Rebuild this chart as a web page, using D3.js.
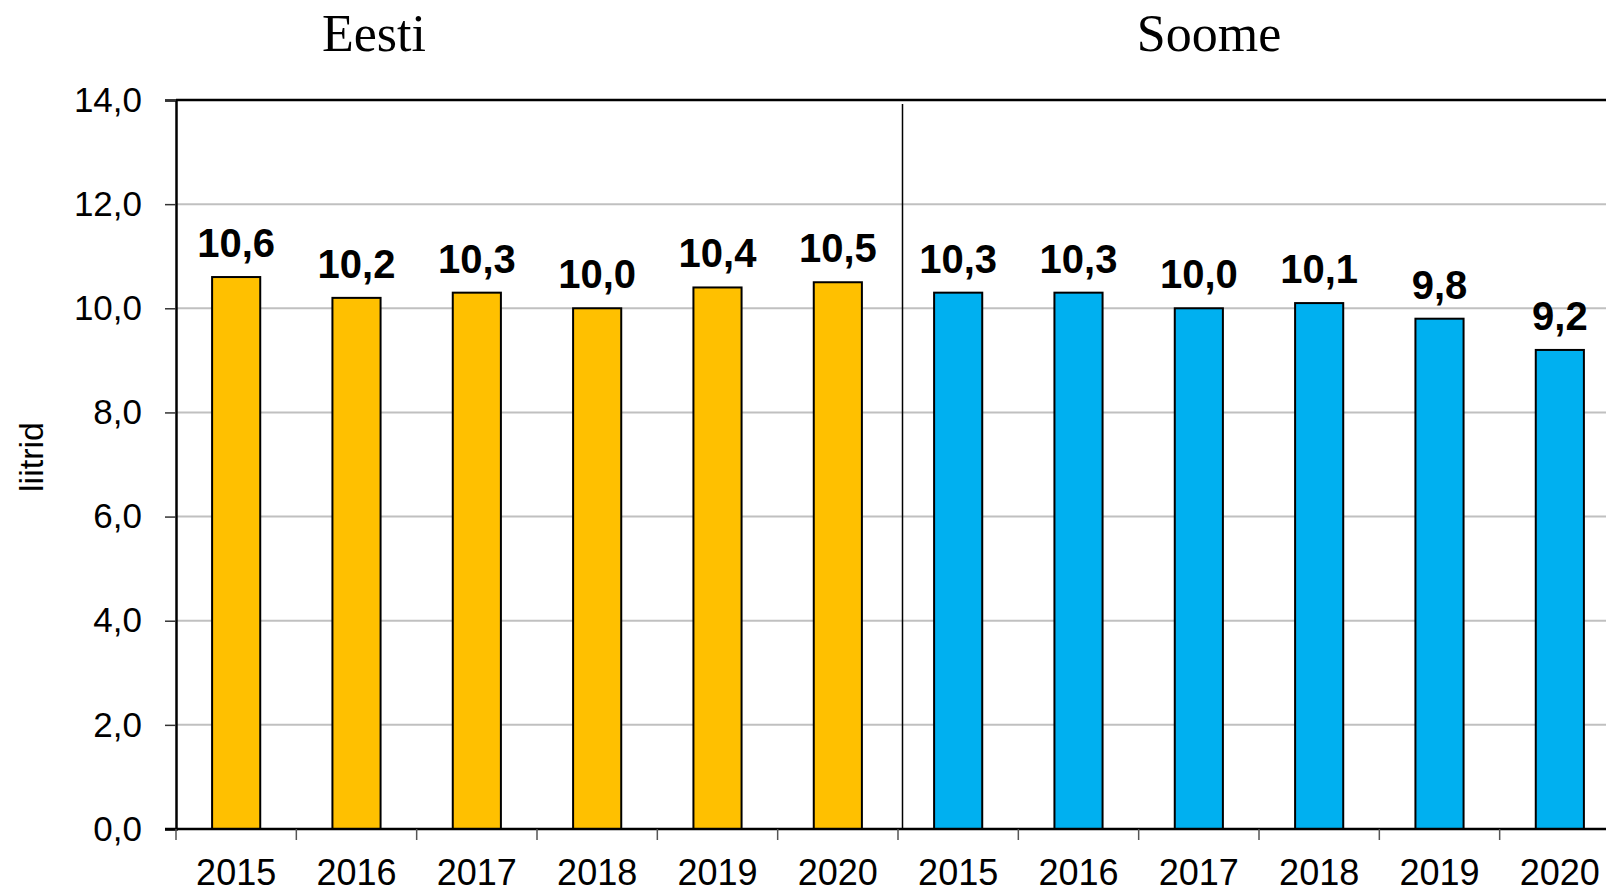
<!DOCTYPE html>
<html>
<head>
<meta charset="utf-8">
<script src="https://cdn.jsdelivr.net/npm/d3@7"></script>
<style>
  body { margin: 0; background: #fff; }
  text { font-family: "Liberation Sans", Arial, sans-serif; fill: #000; }
  .title { font-family: "Liberation Serif", "Times New Roman", serif; }
</style>
</head>
<body>
<div id="chart"></div>
<script>
// data
var years = ["2015", "2016", "2017", "2018", "2019", "2020"];
var countries = ["Eesti", "Soome"];
var eestiValues = [10.6, 10.2, 10.3, 10.0, 10.4, 10.5];
var soomeValues = [10.3, 10.3, 10.0, 10.1, 9.8, 9.2];
var countryColors = ["#FFC000", "#00B0F0"];
var yTicks = [0, 2, 4, 6, 8, 10, 12, 14];

var width = 1606, height = 888;
// note: "top" is taken by window.top, so use plotTop etc.
var plotLeft = 176, plotRight = 1620, plotTop = 100, plotBottom = 829;

var rows = [];
[eestiValues, soomeValues].forEach(function(vals, ci) {
    vals.forEach(function(v, i) {
        rows.push({ key: countries[ci] + "-" + years[i], year: years[i], country: ci, value: v });
    });
});

var fmt = function(v) { return d3.format(".1f")(v).replace(".", ","); };

var svg = d3.select("#chart").append("svg")
    .attr("width", width)
    .attr("height", height);

var x = d3.scaleBand()
    .domain(rows.map(function(d) { return d.key; }))
    .range([plotLeft, plotRight])
    .paddingInner(0.6)
    .paddingOuter(0.3);

// linear helper for the tick marks between categories
var xEdge = d3.scaleLinear().domain([0, rows.length]).range([plotLeft, plotRight]);

var y = d3.scaleLinear().domain([0, 14]).range([plotBottom, plotTop]);

// gridlines
svg.append("g")
    .selectAll("line")
    .data(yTicks.filter(function(t) { return t > 0 && t < 14; }))
    .enter().append("line")
    .attr("x1", plotLeft).attr("x2", plotRight)
    .attr("y1", function(d) { return y(d); })
    .attr("y2", function(d) { return y(d); })
    .style("stroke", "#c0c0c0")
    .style("stroke-width", 2);

// top border
svg.append("line")
    .attr("x1", plotLeft).attr("x2", plotRight)
    .attr("y1", y(14)).attr("y2", y(14))
    .style("stroke", "#000").style("stroke-width", 2.5);

// divider between countries
svg.append("line")
    .attr("x1", xEdge(6) + 4.5).attr("x2", xEdge(6) + 4.5)
    .attr("y1", y(14) + 4).attr("y2", plotBottom)
    .style("stroke", "#000").style("stroke-width", 1.5);

// bars
svg.append("g")
    .selectAll("rect")
    .data(rows)
    .enter().append("rect")
    .attr("x", function(d) { return x(d.key); })
    .attr("y", function(d) { return y(d.value); })
    .attr("width", x.bandwidth())
    .attr("height", function(d) { return plotBottom - y(d.value); })
    .style("fill", function(d) { return countryColors[d.country]; })
    .style("stroke", "#000")
    .style("stroke-width", 2);

// value labels
svg.append("g")
    .selectAll("text")
    .data(rows)
    .enter().append("text")
    .attr("x", function(d) { return x(d.key) + x.bandwidth() / 2; })
    .attr("y", function(d) { return y(d.value) - 20; })
    .attr("text-anchor", "middle")
    .style("font-size", "40px")
    .style("font-weight", "bold")
    .text(function(d) { return fmt(d.value); });

// y axis
var yAxis = svg.append("g")
    .attr("transform", "translate(" + plotLeft + ",0)")
    .call(d3.axisLeft(y).tickValues(yTicks).tickSize(11).tickPadding(23).tickFormat(fmt));
yAxis.select(".domain").style("stroke", "#000").style("stroke-width", 2.5);
yAxis.selectAll(".tick line").style("stroke", "#333").style("stroke-width", 1.5);
yAxis.selectAll("text").style("font-size", "35px").style("font-family", "Liberation Sans, Arial, sans-serif");

// x axis line and tick marks
svg.append("line")
    .attr("x1", plotLeft - 11).attr("x2", plotRight)
    .attr("y1", plotBottom).attr("y2", plotBottom)
    .style("stroke", "#000").style("stroke-width", 2.5);

svg.append("g")
    .selectAll("line")
    .data(d3.range(rows.length + 1))
    .enter().append("line")
    .attr("x1", function(d) { return xEdge(d); })
    .attr("x2", function(d) { return xEdge(d); })
    .attr("y1", plotBottom).attr("y2", plotBottom + 11)
    .style("stroke", "#555")
    .style("stroke-width", 1.5);

// x labels
svg.append("g")
    .selectAll("text")
    .data(rows)
    .enter().append("text")
    .attr("x", function(d) { return x(d.key) + x.bandwidth() / 2; })
    .attr("y", 885)
    .attr("text-anchor", "middle")
    .style("font-size", "36px")
    .text(function(d) { return d.year; });

// country titles
var titleX = [374, 1209];
svg.append("g")
    .selectAll("text")
    .data(countries)
    .enter().append("text")
    .attr("class", "title")
    .attr("x", function(d, i) { return titleX[i]; })
    .attr("y", 51)
    .attr("text-anchor", "middle")
    .style("font-size", "52px")
    .text(function(d) { return d; });

// y axis title
svg.append("text")
    .attr("transform", "translate(43,457) rotate(-90)")
    .attr("text-anchor", "middle")
    .style("font-size", "34px")
    .text("liitrid");
</script>
</body>
</html>
